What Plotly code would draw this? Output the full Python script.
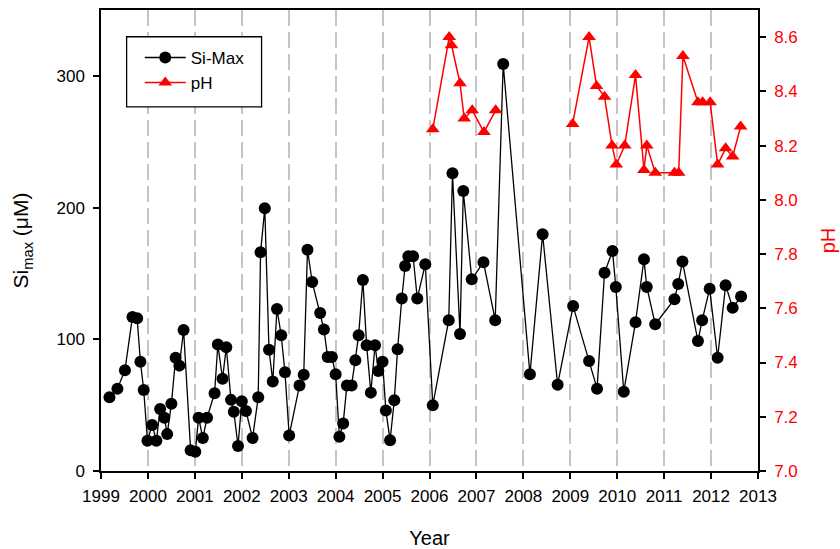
import plotly.graph_objects as go

# Si-Max series (decimal year, µM)
si_year = [1999.18, 1999.35, 1999.51, 1999.67, 1999.77, 1999.84, 1999.91, 1999.99,
           2000.09, 2000.18, 2000.26, 2000.35, 2000.41, 2000.50, 2000.59, 2000.67, 2000.76, 2000.91,
           2001.01, 2001.08, 2001.17, 2001.26, 2001.42, 2001.49, 2001.59, 2001.67, 2001.77, 2001.83, 2001.92,
           2002.00, 2002.09, 2002.23, 2002.35, 2002.40, 2002.49, 2002.58, 2002.66, 2002.75, 2002.84, 2002.92,
           2003.01, 2003.23, 2003.32, 2003.40, 2003.50, 2003.67, 2003.75, 2003.83, 2003.92,
           2004.00, 2004.08, 2004.16, 2004.24, 2004.34, 2004.42, 2004.49, 2004.58, 2004.66, 2004.75, 2004.84, 2004.91,
           2005.00, 2005.07, 2005.16, 2005.25, 2005.32, 2005.41, 2005.48, 2005.55, 2005.65, 2005.74, 2005.91,
           2006.07, 2006.41, 2006.49, 2006.65, 2006.72, 2006.90,
           2007.15, 2007.40, 2007.57,
           2008.14, 2008.41, 2008.73,
           2009.06, 2009.40, 2009.57, 2009.73, 2009.90, 2009.97,
           2010.14, 2010.39, 2010.57, 2010.63, 2010.81,
           2011.22, 2011.30, 2011.39, 2011.72, 2011.81, 2011.97,
           2012.14, 2012.31, 2012.46, 2012.64]
si_max = [56, 62.5, 76.5, 117, 116, 83, 61.5, 23,
          35, 23, 47, 40.5, 28, 51, 86, 80, 107, 15.7,
          14.7, 40.5, 25, 40.5, 59, 96, 70, 94, 54, 45, 19,
          53, 45.5, 25, 56, 166, 199.5, 92, 68, 123, 103, 75,
          27, 65, 73, 168, 143.5, 120, 107.5, 86.5, 86.5,
          73.5, 26, 36, 65, 65, 84, 103, 145, 95.5, 59.5, 95.5, 76,
          83, 46, 23.3, 53.7, 92.4, 131, 155.6, 163, 163, 131, 157,
          50, 114.5, 226, 104, 212.6, 145.5,
          158.5, 114.5, 309,
          73.4, 179.7, 65.5,
          125.2, 83.5, 62.5, 150.6, 167, 139.7,
          60.2, 113, 160.7, 139.7, 111.4,
          130.4, 142, 159, 98.7, 114.4, 138.4,
          86, 141, 124, 132.4]

# pH series (None = gap between sampling campaigns)
ph_year = [2006.07, 2006.42, 2006.47, 2006.65, 2006.74, 2006.91, 2007.16, 2007.41,
           None,
           2009.05, 2009.40, 2009.56, 2009.73, 2009.89, 2009.98,
           2010.16, 2010.39, 2010.57, 2010.63, 2010.81,
           2011.22, 2011.31, 2011.40, 2011.72, 2011.82, 2011.98,
           2012.14, 2012.31, 2012.46, 2012.63]
ph = [8.26, 8.60, 8.57, 8.43, 8.30, 8.33, 8.25, 8.33,
      None,
      8.28, 8.60, 8.42, 8.38, 8.20, 8.13,
      8.20, 8.46, 8.11, 8.20, 8.10,
      8.10, 8.10, 8.53, 8.36, 8.36, 8.36,
      8.13, 8.19, 8.16, 8.27]

year_ticks = list(range(1999, 2014))
si_ticks = [0, 100, 200, 300]
ph_ticks = [7.0, 7.2, 7.4, 7.6, 7.8, 8.0, 8.2, 8.4, 8.6]

FONT = "Liberation Sans, Arial, sans-serif"

fig = go.Figure()
fig.add_trace(go.Scatter(
    x=si_year, y=si_max, name="Si-Max", mode="lines+markers",
    line=dict(color="black", width=1.3),
    marker=dict(symbol="circle", size=12, color="black"),
))
fig.add_trace(go.Scatter(
    x=ph_year, y=ph, name="pH", mode="lines+markers", yaxis="y2",
    connectgaps=False,
    line=dict(color="#ff0000", width=1.5),
    marker=dict(symbol="triangle-up", size=12, color="#ff0000"),
))

# legend frame (white box with black border)
fig.add_shape(type="rect", xref="paper", yref="paper",
              x0=0.039, x1=0.2444, y0=0.790, y1=0.942,
              line=dict(color="black", width=1.3), fillcolor="white", layer="above")

fig.update_layout(
    width=840, height=549,
    margin=dict(l=101, r=82, t=10, b=78),
    paper_bgcolor="white", plot_bgcolor="white",
    font=dict(family=FONT, size=17, color="black"),
    showlegend=True,
    legend=dict(
        x=0.059, y=0.935, xanchor="left", yanchor="top",
        borderwidth=0, bgcolor="rgba(0,0,0,0)",
        font=dict(size=17), tracegroupgap=0, itemwidth=41,
    ),
    xaxis=dict(
        range=[1999, 2013], tickmode="array", tickvals=year_ticks,
        ticktext=[str(y) for y in year_ticks],
        showline=True, linecolor="black", linewidth=1.5, mirror=True,
        ticks="outside", ticklen=6, tickwidth=1.5, tickcolor="black",
        ticklabelstandoff=3, automargin=False,
        showgrid=True, gridcolor="#c4c4c4", gridwidth=1.5, griddash="16px,6px",
        zeroline=False,
        title=dict(text="Year", font=dict(size=20), standoff=26),
    ),
    yaxis=dict(
        range=[0, 350], tickmode="array", tickvals=si_ticks,
        showline=True, linecolor="black", linewidth=1.5,
        ticks="outside", ticklen=6, tickwidth=1.5, tickcolor="black",
        ticklabelstandoff=5, automargin=False,
        showgrid=False, zeroline=False,
        title=dict(text="Si<sub>max</sub> (\u03bcM)", font=dict(size=21), standoff=22),
    ),
    yaxis2=dict(
        range=[7.0, 8.7], tickmode="array", tickvals=ph_ticks,
        ticktext=[f"{v:.1f}" for v in ph_ticks],
        overlaying="y", side="right", anchor="x",
        showline=True, linecolor="black", linewidth=1.5,
        ticks="outside", ticklen=6, tickwidth=1.5, tickcolor="black",
        ticklabelstandoff=5, automargin=False,
        tickfont=dict(color="#ff0000", size=17),
        showgrid=False, zeroline=False,
        title=dict(text="pH", font=dict(size=20, color="#ff0000"), standoff=24),
    ),
)

fig.write_html("out.html")
